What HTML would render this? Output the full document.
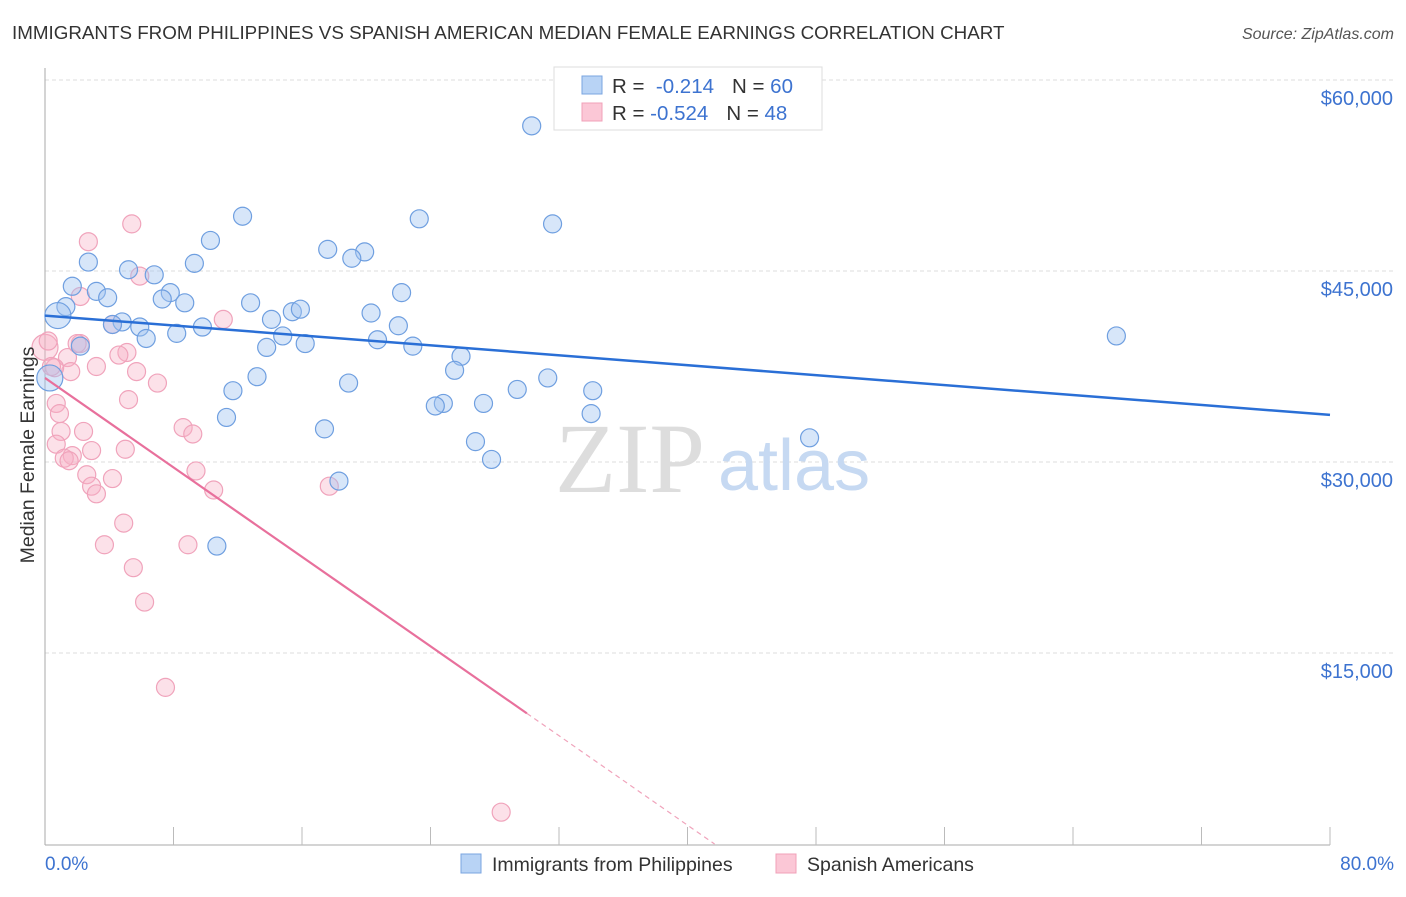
<!DOCTYPE html>
<html><head><meta charset="utf-8"><style>
body{margin:0;background:#fff;font-family:"Liberation Sans",sans-serif}
</style></head><body>
<svg width="1406" height="892" viewBox="0 0 1406 892" xmlns="http://www.w3.org/2000/svg" font-family="Liberation Sans, sans-serif">
<text x="12" y="39" font-size="18.8" fill="#333">IMMIGRANTS FROM PHILIPPINES VS SPANISH AMERICAN MEDIAN FEMALE EARNINGS CORRELATION CHART</text>
<text x="1394" y="39" font-size="16" fill="#555" font-style="italic" text-anchor="end">Source: ZipAtlas.com</text>
<g id="grid"></g>
<g id="axes"></g>
<text x="555" y="492" font-size="100" fill="#ddd" font-family="Liberation Serif, serif">ZIP</text>
<text x="718" y="490" font-size="72" fill="#c6d9f2">atlas</text>
<g id="pts"></g>
<g id="lines"></g>
<text transform="translate(34,455) rotate(-90)" font-size="19.5" fill="#333" text-anchor="middle">Median Female Earnings</text>
<text x="45" y="870" font-size="19" fill="#3d73d0">0.0%</text>
<text x="1394" y="870" font-size="19" fill="#3d73d0" text-anchor="end">80.0%</text>
<g>
<rect x="554" y="67" width="268" height="63" fill="#fff" stroke="#ddd"/>
<rect x="582" y="76" width="20" height="18" fill="#b8d3f5" stroke="#7aa5e0"/>
<rect x="582" y="103" width="20" height="18" fill="#fbc7d6" stroke="#f0a0b8"/>
<text x="612" y="93" font-size="20.5" fill="#333">R = <tspan fill="#3d73d0">&#160;-0.214</tspan><tspan dx="18">N = </tspan><tspan fill="#3d73d0">60</tspan></text>
<text x="612" y="120" font-size="20.5" fill="#333">R = <tspan fill="#3d73d0">-0.524</tspan><tspan dx="18">N = </tspan><tspan fill="#3d73d0">48</tspan></text>
</g>
<g>
<rect x="461" y="854" width="20" height="19" fill="#b8d3f5" stroke="#7aa5e0"/>
<text x="492" y="871" font-size="19.5" fill="#333">Immigrants from Philippines</text>
<rect x="776" y="854" width="20" height="19" fill="#fbc7d6" stroke="#f0a0b8"/>
<text x="807" y="871" font-size="19.5" fill="#333">Spanish Americans</text>
</g>
</svg>
<script>
const yTicks=[15000,30000,45000,60000];
const yTickLabels=["$15,000","$30,000","$45,000","$60,000"];
const blueX=[30.3,31.6,23.3,12.3,10.3,17.6,19.9,19.1,2.7,9.3,5.2,6.8,1.7,3.2,3.9,7.8,7.3,8.7,1.3,0.8,12.8,15.4,15.9,22.2,20.3,14.1,4.8,5.9,9.8,8.2,6.3,14.8,13.8,16.2,20.7,22.9,22.0,2.2,25.9,66.7,18.9,13.2,11.7,25.5,29.4,31.3,34.1,24.8,24.3,27.3,34.0,11.3,17.4,26.8,47.6,27.8,18.3,10.7,0.3,4.2];
const blueY=[56.4,48.7,49.1,49.3,47.4,46.7,46.5,46.0,45.7,45.6,45.1,44.7,43.8,43.4,42.9,43.3,42.8,42.5,42.2,41.5,42.5,41.8,42.0,43.3,41.7,41.2,41.0,40.6,40.6,40.1,39.7,39.9,39.0,39.3,39.6,39.1,40.7,39.1,38.3,39.9,36.2,36.7,35.6,37.2,35.7,36.6,35.6,34.6,34.4,34.6,33.8,33.5,32.6,31.6,31.9,30.2,28.5,23.4,36.6,40.8];
const pinkX=[5.4,2.7,5.9,2.2,11.1,4.2,2.2,5.1,0.0,1.4,3.2,5.7,1.6,7.0,0.6,5.2,0.7,0.9,1.0,2.4,8.6,9.2,0.7,5.0,2.9,1.7,1.2,1.5,9.4,2.6,4.2,2.9,3.2,10.5,17.7,4.9,3.7,8.9,5.5,6.2,7.5,28.4,0.4,0.2,2.0,4.6];
const pinkY=[48.7,47.3,44.6,43.0,41.2,40.8,39.3,38.6,39.0,38.2,37.5,37.1,37.1,36.2,37.4,34.9,34.6,33.8,32.4,32.4,32.7,32.2,31.4,31.0,30.9,30.5,30.3,30.1,29.3,29.0,28.7,28.1,27.5,27.8,28.1,25.2,23.5,23.5,21.7,19.0,12.3,2.5,37.5,39.5,39.3,38.4];
const bigBlue=[19,58];const bigPink=[8];
const blueTrend=[41.5,33.7]; // value at 0% and 80%
const pinkTrend=[36.6,-0.878]; // intercept, slope per %
const NS="http://www.w3.org/2000/svg";
const X=p=>45+p*1285/80;
const Y=v=>844-v*764/60000;
function mk(t,a,parent){const e=document.createElementNS(NS,t);for(const k in a)e.setAttribute(k,a[k]);parent.appendChild(e);return e;}
const grid=document.getElementById('grid');
yTicks.forEach((v,i)=>{
 const l=mk('line',{x1:45,x2:1394,y1:Y(v),y2:Y(v),stroke:'#ddd','stroke-dasharray':'4,3'},grid);
 
 
 const t=mk('text',{x:1393,y:Y(v)+25,'font-size':20,fill:'#3d73d0','text-anchor':'end'},grid);
 t.textContent=yTickLabels[i];
 
 
});
const axes=document.getElementById('axes');
mk('line',{x1:45,x2:45,y1:68,y2:845,stroke:'#aaa'},axes);
mk('line',{x1:45,x2:1330,y1:845,y2:845,stroke:'#aaa'},axes);
for(let i=1;i<=10;i++){const tk=mk('line',{x1:X(i*8),x2:X(i*8),y1:827,y2:845,stroke:'#bbb'},axes);
 
 }
const pts=document.getElementById('pts');
pinkX.forEach((x,i)=>{const c=mk('circle',{cx:X(x),cy:Y(pinkY[i]*1000),r:bigPink.includes(i)?13:9,fill:'rgba(248,175,198,0.38)',stroke:'#f0a3bb','stroke-width':1.2},pts);
 
 });
blueX.forEach((x,i)=>{const c=mk('circle',{cx:X(x),cy:Y(blueY[i]*1000),r:bigBlue.includes(i)?13:9,fill:'rgba(160,196,240,0.42)',stroke:'#6f9fe0','stroke-width':1.2},pts);
 
 });
const lines=document.getElementById('lines');
const bl=mk('line',{x1:X(0),y1:Y(blueTrend[0]*1000),x2:X(80),y2:Y(blueTrend[1]*1000),stroke:'#2a6fd6','stroke-width':2.5},lines);


const pv=p=>(pinkTrend[0]+pinkTrend[1]*p)*1000;
const pl=mk('line',{x1:X(0),y1:Y(pv(0)),x2:X(30),y2:Y(pv(30)),stroke:'#e8709c','stroke-width':2.2},lines);


const pz=-pinkTrend[0]/pinkTrend[1];
const pd=mk('line',{x1:X(30),y1:Y(pv(30)),x2:X(pz),y2:Y(0),stroke:'#f0a3bb','stroke-width':1.2,'stroke-dasharray':'5,4'},lines);


</script>
</body></html>
